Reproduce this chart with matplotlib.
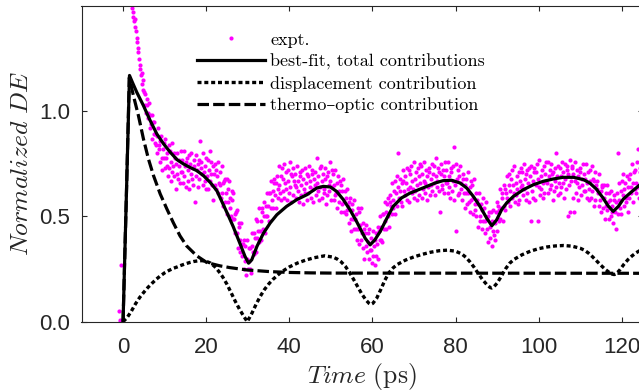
import numpy as np
import matplotlib
matplotlib.use("Agg")
import matplotlib.pyplot as plt
from matplotlib.lines import Line2D

plt.rcParams['mathtext.fontset'] = 'cm'

# ---------------- data ----------------
# experimental points: sampled on a regular time grid
expt_t0 = -1.0      # ps, first sample
expt_dt = 0.1515    # ps, sample spacing
expt_y = [
    0.05, 0.01, 0.00, 0.27, 1.90, 1.90, 1.90, 1.90, 1.90, 1.90, 1.90, 1.90, 1.80, 1.80, 1.75, 1.70, 1.65, 1.60, 1.56, 1.53,
    1.52, 1.49, 1.47, 1.45, 1.43, 1.44, 1.40, 1.38, 1.35, 1.33, 1.30, 1.28, 1.25, 1.22, 1.20, 1.17, 1.18, 1.13, 1.15, 1.10,
    1.09, 1.03, 1.08, 0.99, 1.03, 1.06, 0.97, 0.99, 1.04, 0.92, 0.98, 0.94, 0.98, 0.87, 0.95, 0.89, 0.95, 0.85, 0.89, 0.84,
    0.88, 0.80, 0.92, 0.82, 0.84, 0.76, 0.86, 0.88, 0.78, 0.72, 0.82, 0.85, 0.78, 0.73, 0.87, 0.78, 0.74, 0.80, 0.69, 0.84,
    0.73, 0.81, 0.67, 0.76, 0.85, 0.71, 0.74, 0.80, 0.69, 0.78, 0.63, 0.75, 0.80, 0.70, 0.68, 0.77, 0.74, 0.66, 0.81, 0.71,
    0.77, 0.71, 0.66, 0.81, 0.69, 0.74, 0.64, 0.76, 0.78, 0.67, 0.72, 0.79, 0.63, 0.75, 0.70, 0.80, 0.68, 0.73, 0.65, 0.77,
    0.74, 0.57, 0.79, 0.69, 0.72, 0.64, 0.75, 0.77, 0.68, 0.86, 0.73, 0.76, 0.70, 0.65, 0.80, 0.71, 0.67, 0.74, 0.63, 0.78,
    0.69, 0.77, 0.63, 0.72, 0.81, 0.67, 0.70, 0.76, 0.65, 0.74, 0.58, 0.70, 0.75, 0.65, 0.63, 0.72, 0.69, 0.61, 0.76, 0.66,
    0.71, 0.65, 0.59, 0.74, 0.61, 0.66, 0.55, 0.67, 0.68, 0.57, 0.61, 0.68, 0.51, 0.63, 0.57, 0.67, 0.54, 0.59, 0.50, 0.62,
    0.58, 0.49, 0.61, 0.49, 0.51, 0.42, 0.52, 0.53, 0.42, 0.35, 0.45, 0.47, 0.39, 0.33, 0.47, 0.37, 0.31, 0.37, 0.25, 0.39,
    0.29, 0.36, 0.22, 0.30, 0.39, 0.25, 0.29, 0.35, 0.25, 0.35, 0.23, 0.36, 0.42, 0.33, 0.32, 0.42, 0.40, 0.33, 0.49, 0.40,
    0.48, 0.43, 0.38, 0.54, 0.43, 0.48, 0.39, 0.52, 0.54, 0.44, 0.50, 0.57, 0.42, 0.55, 0.50, 0.61, 0.50, 0.55, 0.48, 0.61,
    0.61, 0.54, 0.67, 0.58, 0.62, 0.54, 0.66, 0.68, 0.60, 0.54, 0.66, 0.69, 0.63, 0.59, 0.74, 0.65, 0.61, 0.69, 0.58, 0.73,
    0.62, 0.68, 0.75, 0.59, 0.66, 0.71, 0.63, 0.58, 0.72, 0.67, 0.61, 0.76, 0.64, 0.70, 0.57, 0.69, 0.73, 0.60, 0.67, 0.65,
    0.70, 0.64, 0.59, 0.74, 0.62, 0.67, 0.57, 0.69, 0.71, 0.60, 0.65, 0.72, 0.56, 0.68, 0.63, 0.73, 0.61, 0.66, 0.58, 0.70,
    0.69, 0.61, 0.74, 0.64, 0.67, 0.59, 0.70, 0.72, 0.63, 0.57, 0.68, 0.71, 0.65, 0.60, 0.78, 0.66, 0.62, 0.69, 0.58, 0.73,
    0.64, 0.74, 0.59, 0.67, 0.70, 0.61, 0.63, 0.73, 0.68, 0.56, 0.69, 0.60, 0.71, 0.65, 0.62, 0.76, 0.67, 0.58, 0.72, 0.64,
    0.70, 0.58, 0.65, 0.60, 0.72, 0.61, 0.66, 0.54, 0.69, 0.62, 0.57, 0.67, 0.65, 0.52, 0.62, 0.56, 0.68, 0.52, 0.57, 0.62,
    0.59, 0.51, 0.63, 0.53, 0.55, 0.47, 0.57, 0.59, 0.49, 0.43, 0.53, 0.56, 0.49, 0.44, 0.58, 0.49, 0.44, 0.51, 0.39, 0.54,
    0.44, 0.52, 0.37, 0.46, 0.54, 0.39, 0.42, 0.47, 0.35, 0.44, 0.30, 0.42, 0.46, 0.36, 0.33, 0.42, 0.38, 0.30, 0.44, 0.34,
    0.40, 0.34, 0.28, 0.43, 0.31, 0.36, 0.27, 0.39, 0.42, 0.31, 0.37, 0.45, 0.30, 0.43, 0.39, 0.50, 0.39, 0.45, 0.38, 0.51,
    0.51, 0.44, 0.57, 0.48, 0.52, 0.44, 0.56, 0.59, 0.50, 0.45, 0.57, 0.60, 0.55, 0.51, 0.66, 0.58, 0.54, 0.62, 0.51, 0.67,
    0.61, 0.69, 0.55, 0.64, 0.80, 0.59, 0.62, 0.68, 0.57, 0.66, 0.55, 0.67, 0.72, 0.62, 0.60, 0.69, 0.66, 0.58, 0.73, 0.63,
    0.72, 0.57, 0.64, 0.70, 0.74, 0.61, 0.67, 0.63, 0.76, 0.59, 0.68, 0.62, 0.71, 0.65, 0.58, 0.73, 0.60, 0.69, 0.66, 0.75,
    0.74, 0.59, 0.70, 0.63, 0.67, 0.76, 0.61, 0.66, 0.72, 0.69, 0.58, 0.64, 0.73, 0.71, 0.60, 0.68, 0.65, 0.75, 0.62, 0.70,
    0.66, 0.74, 0.60, 0.69, 0.78, 0.64, 0.67, 0.73, 0.62, 0.71, 0.52, 0.70, 0.75, 0.65, 0.63, 0.72, 0.69, 0.61, 0.76, 0.66,
    0.72, 0.66, 0.61, 0.76, 0.64, 0.69, 0.59, 0.71, 0.73, 0.62, 0.67, 0.74, 0.58, 0.83, 0.65, 0.75, 0.43, 0.68, 0.60, 0.72,
    0.69, 0.61, 0.74, 0.63, 0.66, 0.58, 0.68, 0.70, 0.61, 0.54, 0.65, 0.68, 0.61, 0.56, 0.71, 0.61, 0.57, 0.64, 0.52, 0.67,
    0.58, 0.65, 0.51, 0.59, 0.68, 0.53, 0.56, 0.61, 0.50, 0.58, 0.45, 0.56, 0.61, 0.50, 0.48, 0.56, 0.53, 0.44, 0.59, 0.48,
    0.54, 0.48, 0.42, 0.57, 0.44, 0.49, 0.38, 0.50, 0.52, 0.40, 0.45, 0.52, 0.36, 0.48, 0.43, 0.53, 0.41, 0.47, 0.39, 0.52,
    0.57, 0.43, 0.55, 0.48, 0.53, 0.63, 0.49, 0.54, 0.61, 0.59, 0.48, 0.55, 0.65, 0.63, 0.53, 0.61, 0.59, 0.69, 0.57, 0.65,
    0.70, 0.55, 0.62, 0.68, 0.72, 0.59, 0.65, 0.61, 0.74, 0.57, 0.66, 0.60, 0.69, 0.63, 0.56, 0.71, 0.58, 0.67, 0.64, 0.73,
    0.71, 0.65, 0.60, 0.75, 0.63, 0.68, 0.58, 0.70, 0.72, 0.61, 0.66, 0.73, 0.57, 0.69, 0.48, 0.74, 0.62, 0.67, 0.59, 0.71,
    0.73, 0.58, 0.65, 0.71, 0.75, 0.48, 0.68, 0.64, 0.77, 0.60, 0.69, 0.63, 0.72, 0.66, 0.59, 0.74, 0.61, 0.70, 0.67, 0.76,
    0.66, 0.76, 0.61, 0.69, 0.72, 0.63, 0.65, 0.75, 0.70, 0.58, 0.71, 0.62, 0.73, 0.67, 0.64, 0.80, 0.69, 0.60, 0.74, 0.66,
    0.73, 0.61, 0.69, 0.64, 0.76, 0.66, 0.71, 0.59, 0.75, 0.68, 0.63, 0.74, 0.72, 0.50, 0.70, 0.65, 0.77, 0.52, 0.67, 0.73,
    0.74, 0.59, 0.70, 0.52, 0.67, 0.76, 0.61, 0.66, 0.72, 0.69, 0.58, 0.64, 0.73, 0.71, 0.60, 0.68, 0.65, 0.75, 0.62, 0.70,
    0.62, 0.68, 0.75, 0.59, 0.66, 0.71, 0.63, 0.58, 0.72, 0.67, 0.59, 0.74, 0.62, 0.68, 0.55, 0.67, 0.71, 0.58, 0.65, 0.63,
    0.67, 0.61, 0.55, 0.70, 0.58, 0.62, 0.52, 0.64, 0.65, 0.54, 0.59, 0.65, 0.49, 0.61, 0.55, 0.65, 0.53, 0.57, 0.49, 0.61,
    0.58, 0.50, 0.62, 0.52, 0.55, 0.47, 0.58, 0.60, 0.52, 0.44, 0.57, 0.61, 0.80, 0.51, 0.66, 0.58, 0.54, 0.62, 0.51, 0.67,
    0.60, 0.70, 0.55, 0.63, 0.66, 0.57, 0.59, 0.69, 0.64, 0.52, 0.68, 0.59, 0.70, 0.64, 0.61, 0.75, 0.66, 0.57, 0.71, 0.63,
    0.72, 0.66, 0.61, 0.76, 0.64, 0.82, 0.59, 0.71, 0.73, 0.62, 0.67, 0.74, 0.58, 0.70, 0.65, 0.75, 0.63, 0.68, 0.60, 0.72,
]
expt_t = expt_t0 + expt_dt * np.arange(len(expt_y))

# best-fit, total contributions
fit_t = [0, 0.8, 1.55, 2.3, 3.28, 4.9, 6.52, 8.13, 9.75, 11.37, 12.98, 14.5, 16.1, 17.73, 19.35,
         20.97, 22.58, 23.8, 25.2, 26.5, 28.1, 29.35, 30.2, 30.97, 32.2, 33.8, 35.4, 37.0, 39.35,
         41.8, 44.2, 46.6, 48.2, 49.9, 51.4, 53.0, 54.6, 56.2, 58.25, 59.45, 60.6, 61.9, 63.5,
         65.0, 67.0, 69.05, 71.1, 73.1, 75.1, 77.0, 79.05, 81.1, 82.7, 84.3, 85.9, 87.5, 88.75,
         89.9, 91.1, 92.3, 93.9, 96.3, 98.75, 101.1, 103.5, 105.9, 108.4, 110.8, 112.3, 113.9,
         115.5, 116.7, 117.95, 119.2, 120.4, 122.0, 124.1, 125.0]
fit_y = [0.0, 0.60, 1.17, 1.135, 1.091, 1.027, 0.956, 0.892, 0.845, 0.805, 0.770, 0.750, 0.733, 0.718, 0.694,
         0.662, 0.622, 0.570, 0.510, 0.452, 0.373, 0.310, 0.278, 0.294, 0.357, 0.421, 0.469, 0.508, 0.548,
         0.580, 0.603, 0.635, 0.643, 0.640, 0.619, 0.580, 0.532, 0.476, 0.397, 0.365, 0.389, 0.429, 0.492,
         0.548, 0.588, 0.611, 0.627, 0.643, 0.659, 0.670, 0.672, 0.659, 0.635, 0.595, 0.548, 0.492, 0.456,
         0.484, 0.532, 0.564, 0.595, 0.627, 0.651, 0.667, 0.678, 0.686, 0.686, 0.675, 0.659, 0.630,
         0.588, 0.551, 0.524, 0.548, 0.583, 0.611, 0.646, 0.660]

# displacement contribution
disp_t = [0, 1, 2, 3, 4, 5, 6, 7, 8, 9, 10, 11, 12, 13, 14, 15, 16, 17, 18, 19, 20, 21, 22, 23, 24, 25,
          26, 27, 28, 29, 29.9, 31, 32, 33, 34, 35, 36, 38, 40, 42, 44, 46, 48.5, 50.5, 51.5, 52.5, 53.5,
          54.5, 55.5, 56.5, 57.5, 58.5, 59.2, 59.6, 60.1, 61, 62, 63, 64, 65, 66, 68, 70, 72, 74, 76, 78,
          80, 81.5, 82.5, 83.5, 84.5, 85.5, 86.5, 87.5, 88.3, 88.7, 89.2, 90, 91, 92, 93, 94, 96, 98, 100,
          102, 104, 106, 108, 110, 111, 112, 113, 114, 115, 116, 117, 117.7, 118.2, 118.7, 119.5, 120.5,
          121.5, 122.5, 123.5, 125]
disp_y = [0.0, 0.02, 0.05, 0.085, 0.115, 0.14, 0.163, 0.183, 0.202, 0.218, 0.232, 0.243, 0.253, 0.26, 0.268,
          0.275, 0.281, 0.286, 0.289, 0.29, 0.287, 0.279, 0.263, 0.24, 0.212, 0.178, 0.138, 0.097, 0.06, 0.027,
          0.0, 0.04, 0.082, 0.12, 0.152, 0.178, 0.2, 0.235, 0.26, 0.279, 0.293, 0.304, 0.313, 0.307, 0.298,
          0.284, 0.263, 0.234, 0.2, 0.165, 0.13, 0.102, 0.087, 0.082, 0.087, 0.11, 0.152, 0.197, 0.233, 0.256,
          0.272, 0.293, 0.308, 0.32, 0.33, 0.337, 0.34, 0.335, 0.322, 0.306, 0.284, 0.258, 0.228, 0.2, 0.177,
          0.163, 0.16, 0.165, 0.183, 0.215, 0.25, 0.277, 0.295, 0.318, 0.335, 0.347, 0.355, 0.36, 0.362, 0.359,
          0.349, 0.34, 0.326, 0.308, 0.288, 0.268, 0.249, 0.234, 0.226, 0.224, 0.228, 0.245, 0.272, 0.295,
          0.313, 0.328, 0.345]

# thermo-optic contribution
thermo_t = [0, 0.8, 1.5, 2.48, 3.69, 4.9, 6.11, 7.33, 8.94, 10.56, 12.08, 13.7, 15.3, 17.73, 20.16,
            23.4, 25.7, 29.75, 35.3, 40, 45, 50, 125]
thermo_y = [0.0, 0.60, 1.16, 1.075, 0.98, 0.869, 0.773, 0.694, 0.607, 0.535, 0.471, 0.408, 0.36, 0.313, 0.281,
            0.265, 0.257, 0.246, 0.238, 0.234, 0.232, 0.231, 0.230]

labels = ['expt.', 'best-fit, total contributions', 'displacement contribution',
          'thermo\u2013optic contribution']
x_ticks = [0, 20, 40, 60, 80, 100, 120]
y_ticks = [0.0, 0.5, 1.0]

# ---------------- figure ----------------
W, H = 639, 391
fig = plt.figure(figsize=(W / 100, H / 100), dpi=100)
left, right, top, bottom = 81.5, 642.5, 6.0, 321.7
ax = fig.add_axes([left / W, 1 - bottom / H, (right - left) / W, (bottom - top) / H])

axcol = '#262626'
ax.plot(expt_t, expt_y, ls='none', marker='o', ms=3.0, mew=0, color='#ff00ff', zorder=2)
ax.plot(fit_t, fit_y, color='black', lw=2.3, solid_joinstyle='round', zorder=3)
ax.plot(disp_t, disp_y, color='black', lw=2.4, ls=(0, (1.2, 0.85)), zorder=3)
ax.plot(thermo_t, thermo_y, color='black', lw=2.3, ls=(0, (3.6, 1.3)), zorder=3)

ax.set_xlim(-10, 125)
ax.set_ylim(0, 1.5)
ax.set_xticks(x_ticks)
ax.set_yticks(y_ticks)
ax.set_yticklabels(['%.1f' % v for v in y_ticks])
ax.tick_params(direction='in', top=True, right=True, length=3.6, width=0.8,
               colors=axcol, labelsize=16)
ax.tick_params(axis='x', pad=11)
ax.tick_params(axis='y', pad=8)
for lab in ax.get_xticklabels() + ax.get_yticklabels():
    lab.set_fontfamily('Liberation Sans')
for sp in ax.spines.values():
    sp.set_color(axcol)
    sp.set_linewidth(0.8)

ax.set_xlabel(r'$Time\ \mathrm{(ps)}$', fontsize=18.5, color=axcol, labelpad=2.5)
ax.set_ylabel(r'$Normalized\ DE$', fontsize=18.5, color=axcol, labelpad=4)

handles = [
    Line2D([], [], ls='none', marker='o', ms=3.0, mew=0, color='#ff00ff'),
    Line2D([], [], color='black', lw=2.3),
    Line2D([], [], color='black', lw=2.4, ls=(0, (1.2, 0.85))),
    Line2D([], [], color='black', lw=2.3, ls=(0, (3.6, 1.3))),
]
leg = ax.legend(handles, labels, loc='upper left', bbox_to_anchor=(197 / W, 1 - 32 / H),
                bbox_transform=fig.transFigure, frameon=False, borderpad=0, borderaxespad=0,
                handlelength=3.77, handletextpad=0.28, labelspacing=0.33,
                prop={'family': ['cmr10', 'DejaVu Serif'], 'size': 13})

fig.savefig('out.png', dpi=100)
